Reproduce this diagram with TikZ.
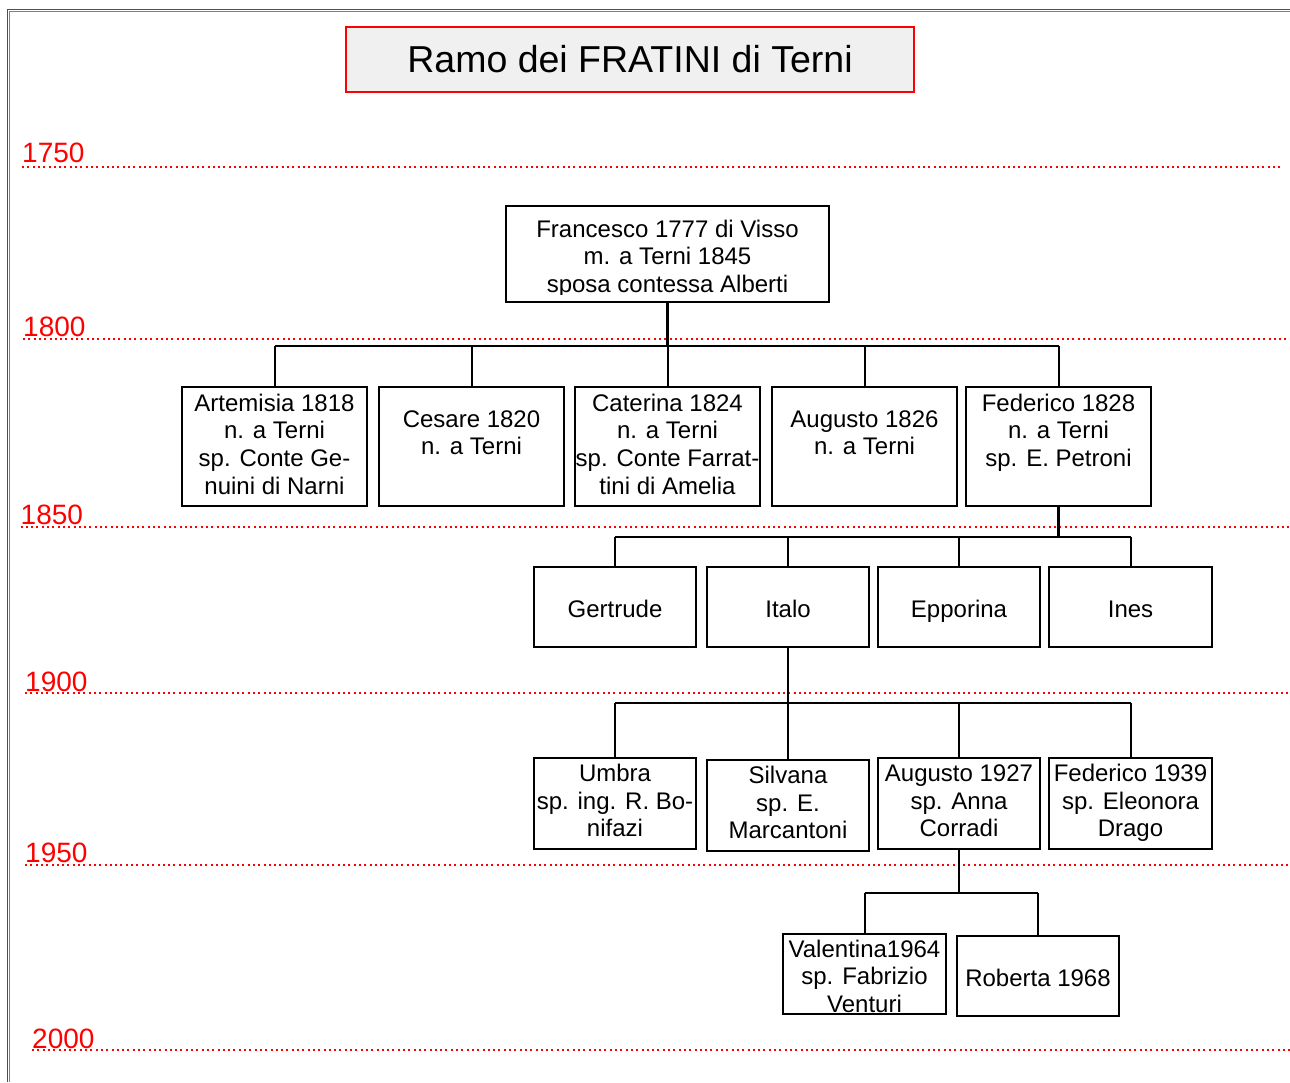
\documentclass[tikz,border=0pt]{standalone}
\usepackage{fontspec}
\setmainfont{Liberation Sans}
\definecolor{titlefill}{HTML}{F0F0F0}
\definecolor{framegray}{HTML}{505050}
\newcommand\lnstrut{\rule{0pt}{18pt}}
\begin{document}
\begin{tikzpicture}[x=1pt,y=-1pt,
  pbox/.style={draw=black, line width=1.6pt, fill=white, inner sep=0pt,
               text height=20pt, text depth=0pt, font=\fontsize{24}{27.6}\selectfont},
  ptext/.style={anchor=north, inner sep=0pt, align=center, font=\fontsize{24}{27.6}\selectfont},
  link/.style={line width=2pt, black},
  trunk/.style={line width=2.6pt, black},
  era/.style={red, line width=2pt, dash pattern=on 2pt off 3.3pt},
  eralabel/.style={anchor=base west, inner sep=0pt, text=red, font=\fontsize{28}{32}\selectfont}]

\useasboundingbox (0,0) rectangle (1290,1082);

% page frame
\draw[framegray, line width=1.2pt] (7.3,1082) -- (7.3,9.6) -- (1290,9.6);
\draw[gray, line width=1pt] (9,1082) -- (9,11.4) -- (1290,11.4);

% title
\node[draw=red, fill=titlefill, line width=2pt, minimum width=568pt, minimum height=65pt,
      inner sep=0pt, font=\fontsize{37.5}{42}\selectfont] (title) at (630,59.5) {Ramo dei FRATINI di Terni};

% time scale
\node[eralabel] (y1750) at (22,162) {1750};
\node[eralabel] (y1800) at (23,336) {1800};
\node[eralabel] (y1850) at (20.5,524) {1850};
\node[eralabel] (y1900) at (25,691) {1900};
\node[eralabel] (y1950) at (25,862) {1950};
\node[eralabel] (y2000) at (32,1048) {2000};
\draw[era] (y1750.base west |- 0,166.5) -- (1283,166.5);
\draw[era] (y1800.base west |- 0,338.5) -- (1290,338.5);
\draw[era] (y1850.base west |- 0,527) -- (1290,527);
\draw[era] (y1900.base west |- 0,693) -- (1290,693);
\draw[era] (y1950.base west |- 0,865) -- (1290,865);
\draw[era] (y2000.base west |- 0,1050) -- (1290,1050);

% persons
\node[pbox, minimum width=323pt, minimum height=96pt] (fran) at (667.5,254) {};
\node[pbox, minimum width=185pt, minimum height=119pt] (art) at (274.5,446.5) {};
\node[pbox, minimum width=185pt, minimum height=119pt] (ces) at (471.5,446.5) {};
\node[pbox, minimum width=185pt, minimum height=119pt] (cat) at (667.5,446.5) {};
\node[pbox, minimum width=185pt, minimum height=119pt] (aug26) at (864.5,446.5) {};
\node[pbox, minimum width=185pt, minimum height=119pt] (fed28) at (1058.5,446.5) {};

\node[pbox, minimum width=162pt, minimum height=80pt] (ger) at (615,607) {Gertrude};
\node[pbox, minimum width=162pt, minimum height=80pt] (ita) at (788,607) {Italo};
\node[pbox, minimum width=162pt, minimum height=80pt] (epp) at (959,607) {Epporina};
\node[pbox, minimum width=163pt, minimum height=80pt] (ine) at (1130.5,607) {Ines};

\node[pbox, minimum width=162pt, minimum height=91pt] (umb) at (615,803.5) {};
\node[pbox, minimum width=162pt, minimum height=91pt] (sil) at (788,805.5) {};
\node[pbox, minimum width=162pt, minimum height=91pt] (aug27) at (959,803.5) {};
\node[pbox, minimum width=163pt, minimum height=91pt] (fed39) at (1130.5,803.5) {};

\node[pbox, minimum width=163pt, minimum height=80pt] (val) at (864.5,974) {};
\node[pbox, minimum width=162pt, minimum height=80pt] (rob) at (1038,976) {Roberta 1968};

% names and notes
\begin{scope}
  \clip (506,206) rectangle (829,294);
  \node[ptext] (frant) at (667.5,219) {\lnstrut Francesco 1777 di Visso\\m. a Terni 1845\\sposa contessa Alberti};
\end{scope}
\node[ptext] (artt) at (274.5,393) {\lnstrut Artemisia 1818\\n. a Terni\\sp. Conte Ge-\\nuini di Narni};
\node[ptext] (cest) at (471.5,409) {\lnstrut Cesare 1820\\n. a Terni};
\node[ptext] (catt) at (667.5,393) {\lnstrut Caterina 1824\\n. a Terni\\sp. Conte Farrat-\\tini di Amelia};
\node[ptext] (aug26t) at (864.5,409) {\lnstrut Augusto 1826\\n. a Terni};
\node[ptext] (fed28t) at (1058.5,393) {\lnstrut Federico 1828\\n. a Terni\\sp. E. Petroni};
\node[ptext] (umbt) at (615,763.5) {\lnstrut Umbra\\sp. ing. R. Bo-\\nifazi};
\node[ptext] (silt) at (788,765.5) {\lnstrut Silvana\\sp. E.\\Marcantoni};
\node[ptext] (aug27t) at (959,763.5) {\lnstrut Augusto 1927\\sp. Anna\\Corradi};
\node[ptext] (fed39t) at (1130.5,763.5) {\lnstrut Federico 1939\\sp. Eleonora\\Drago};
\node[ptext] (valt) at (864.5,939) {\lnstrut Valentina1964\\sp. Fabrizio\\Venturi};

% children of Francesco
\draw[trunk] (fran.south) -- ++(0,43) coordinate (busA);
\draw[link] (busA -| art.north) -- (busA -| fed28.north);
\foreach \n in {art,ces,cat,aug26,fed28} \draw[link] (\n.north) -- (\n.north |- busA);

% children of Federico 1828
\draw[trunk] (fed28.south) -- ++(0,30) coordinate (busB);
\draw[link] (busB -| ger.north) -- (busB -| ine.north);
\foreach \n in {ger,ita,epp,ine} \draw[link] (\n.north) -- (\n.north |- busB);

% children of Italo
\draw[trunk] (ita.south) -- ++(0,55) coordinate (busC);
\draw[link] (busC -| umb.north) -- (busC -| fed39.north);
\foreach \n in {umb,sil,aug27,fed39} \draw[link] (\n.north) -- (\n.north |- busC);

% children of Augusto 1927
\draw[trunk] (aug27.south) -- ++(0,43) coordinate (busD);
\draw[link] (busD -| val.north) -- (busD -| rob.north);
\foreach \n in {val,rob} \draw[link] (\n.north) -- (\n.north |- busD);

\end{tikzpicture}
\end{document}
